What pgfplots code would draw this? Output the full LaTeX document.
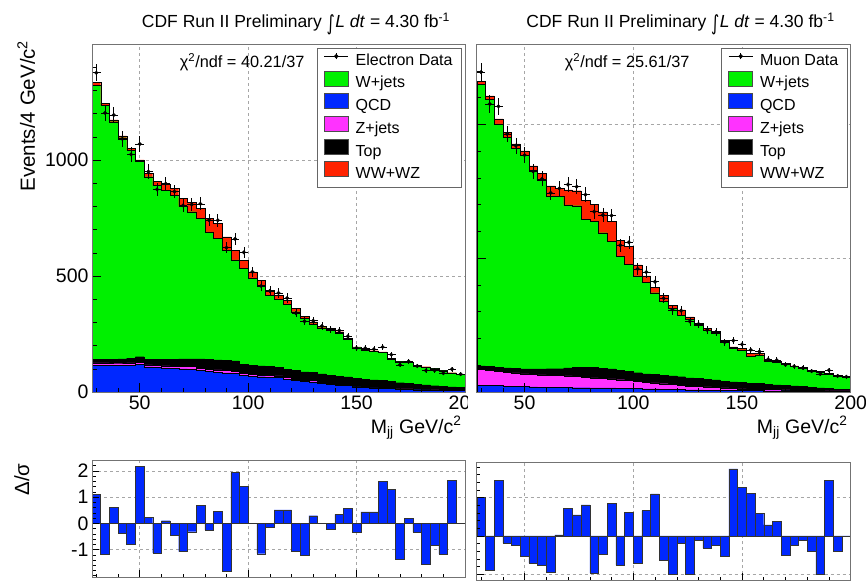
\documentclass[border=0pt]{standalone}
\usepackage{pgfplots}
\pgfplotsset{compat=1.18}
\usepackage{pgfplotstable}
\usepackage{graphicx}
\usepackage{fontspec}
\setmainfont{Liberation Sans}
\newfontfamily\djv{DejaVu Sans}

\definecolor{rgreen}{RGB}{0,240,0}
\definecolor{rblue}{RGB}{0,40,255}
\definecolor{rmag}{RGB}{255,50,255}
\definecolor{rred}{RGB}{255,35,0}

\pgfplotsset{
  rootframe/.style={
    scale only axis, axis on top, clip=true,
    axis line style={draw=black!55, line width=0.9pt},
    tick style={black, line width=0.5pt},
    tick align=inside, xtick pos=bottom, ytick pos=left,
    major tick length=9pt, minor tick length=4.5pt,
    ticklabel style={font=\fontsize{19.5}{22}\selectfont},
    /pgf/number format/assume math mode=true,
    /pgf/number format/1000 sep={},
    xmin=28, xmax=200,
    xtick={50,100,150,200}, minor xtick={30,40,...,200},
  },
  gridl/.style={black!35, dashed, dash pattern=on 3pt off 3pt, line width=0.5pt, forget plot},
  rootlegend/.style={
    legend cell align=left,
    legend style={at={(rel axis cs:1,1)}, anchor=north east, xshift=-3pt, yshift=-4pt,
      draw=black!60, line width=0.8pt, fill=white,
      font=\fontsize{16}{18}\selectfont,
      inner xsep=7pt, inner ysep=3.5pt, row sep=0pt,
      nodes={inner ysep=1.4pt, text height=12pt, text depth=4pt},
      /tikz/every odd column/.append style={column sep=5pt},
      /tikz/every even column/.append style={column sep=6pt}},
  },
  legdata/.style={legend image code/.code={
      \draw[black, line width=0.7pt] (0pt,5pt) -- (24pt,5pt);
      \draw[black, line width=0.7pt] (12pt,2pt) -- (12pt,8pt);
      \fill[black] (12pt,5pt) circle (1.8pt);}},
  legbox/.style={legend image code/.code={
      \draw[black!70, line width=0.6pt, fill=#1] (0pt,-2pt) rectangle (24pt,13pt);}},
  layer/.style={const plot mark left, fill=#1, draw=black, line width=0.35pt, forget plot},
  databars/.style={only marks, mark=*, mark size=1.8pt, black, forget plot,
      error bars/.cd, x dir=both, x fixed=2, y dir=both, y explicit,
      error bar style={line width=0.6pt, black}, error mark=none},
}

% Electron channel: bin left edges, stacked components
\pgfplotstableread{
x qcd z top wj ww
28 116 10 14 1183 12
32 116 10 16 1095 8
36 115 10 17 1023 8
40 115 10 18 953 8
44 116 10 20 896 8
48 118 10 24 842 6
52 108 9 24 787 15
56 106 9 26 749 17
60 104 9 28 729 25
64 102 10 30 707 29
68 100 11 32 656 36
72 98 12 33 634 40
76 92 11 40 605 43
80 88 11 41 550 58
84 84 11 44 523 65
88 82 10 44 475 58
92 80 10 44 435 43
96 72 8 40 412 36
100 68 8 40 373 29
104 66 7 40 347 22
108 64 7 40 306 22
112 62 7 38 292 18
116 56 6 36 279 18
120 50 6 36 254 14
124 46 5 36 230 10
128 44 5 35 210 8
132 38 5 35 199 7
136 34 4 34 196 6
140 30 4 34 186 6
144 28 4 33 161 5
148 22 3 33 133 4
152 20 3 32 124 4
156 18 3 31 122 4
160 16 3 30 121 3
164 15 2 28 97 3
168 12 2 26 90 3
172 11 2 24 91 2
176 10 2 22 80 2
180 9 2 20 76 2
184 8 1 18 73 2
188 7 1 16 67 1
192 7 1 14 60 1
196 6 1 12 57 1
200 6 1 12 57 1
}\etab

\pgfplotstableread{
x n
30 1376
34 1203
38 1194
42 1091
46 1024
50 1069
54 950
58 873
62 898
66 864
70 804
74 808
78 811
82 741
86 740
90 622
94 660
98 602
102 518
106 457
110 436
114 427
118 405
122 340
126 305
130 307
134 284
138 270
142 265
146 240
150 190
154 189
158 184
162 194
166 161
170 117
174 132
178 112
182 93
186 93
190 81
194 98
198 77
}\edata

\pgfplotstableread{
x r
28 1.12
32 -1.18
36 0.61
40 -0.38
44 -0.80
48 2.19
52 0.24
56 -1.14
60 0.10
64 -0.47
68 -1.08
72 -0.32
76 0.70
80 -0.25
84 0.47
88 -1.82
92 1.94
96 1.42
100 0
104 -1.16
108 -0.15
112 0.51
116 0.51
120 -1.08
124 -1.23
128 0.29
132 0
136 -0.22
140 0.34
144 0.57
148 -0.34
152 0.44
156 0.44
160 1.61
164 1.31
168 -1.36
172 0.19
176 -0.34
180 -1.55
184 -0.85
188 -1.18
192 1.65
196 0
200 0
}\eres

% Muon channel
\pgfplotstableread{
x qcd z top wj ww
28 26 58 14 1051 12
32 25 56 14 999 12
36 24 54 15 909 18
40 22 52 16 862 18
44 21 50 17 821 18
48 20 48 18 797 18
52 19 47 20 741 18
56 18 46 22 707 25
60 18 45 24 646 37
64 17 44 26 643 30
68 17 43 30 609 56
72 16 42 34 604 56
76 16 40 37 552 70
80 15 38 38 547 62
84 15 36 38 506 78
88 15 34 37 478 74
92 14 32 35 427 58
96 14 29 33 401 68
100 13 26 33 362 41
104 12 24 32 341 25
108 12 22 32 305 19
112 11 20 32 276 23
116 10 18 32 252 13
120 9 16 32 230 20
124 8 14 31 218 10
128 8 13 30 197 8
132 7 12 29 182 7
136 7 10 28 176 6
140 6 9 26 147 6
144 6 8 24 126 5
148 5 7 23 122 5
152 5 6 22 101 10
156 5 6 21 107 5
160 4 5 20 86 4
164 4 5 18 85 3
168 4 4 17 79 3
172 3 4 16 72 3
176 3 3 14 69 2
180 3 3 12 62 2
184 2 3 10 59 2
188 2 2 9 54 2
192 2 2 7 51 1
196 2 2 6 46 1
200 2 2 6 46 1
}\mtab

\pgfplotstableread{
x n
30 1195
34 1076
38 1067
42 964
46 920
50 885
54 824
58 796
62 744
66 761
70 775
74 767
78 737
82 674
86 661
90 659
94 548
98 559
102 460
106 448
110 412
114 350
118 307
122 304
126 264
130 254
134 232
138 224
142 186
146 192
150 178
154 157
158 151
162 122
166 119
170 102
174 96
178 90
182 78
186 67
190 81
194 60
198 57
}\mdata

\pgfplotstableread{
x r
28 1.00
32 -0.89
36 1.46
40 -0.19
44 -0.23
48 -0.54
52 -0.71
56 -0.76
60 -0.95
64 0.03
68 0.72
72 0.55
76 0.81
80 -0.97
84 -0.48
88 0.85
92 -0.76
96 0.62
100 -0.71
104 0.66
108 1.10
112 -0.63
116 -0.99
120 -0.19
124 -0.99
128 -0.10
132 -0.32
136 -0.23
140 -0.54
144 1.75
148 1.27
152 1.11
156 0.59
160 0.29
164 0.39
168 -0.50
172 -0.23
176 -0.10
180 -0.41
184 -0.99
188 1.46
192 -0.41
196 0
200 0
}\mres

\newcommand{\lumi}{CDF Run II Preliminary \raisebox{-2.5pt}{\scalebox{0.9}[1.2]{\djv ∫}}\kern0.5pt\textit{L dt} = 4.30 fb\textsuperscript{-1}}

\begin{document}
\begin{tikzpicture}
\path[use as bounding box] (0pt,0pt) rectangle (866pt,581pt);

% ===== Left main (electron) =====
\begin{axis}[rootframe, rootlegend, at={(92pt,189pt)}, anchor=south west,
  width=373pt, height=348pt, ymin=0, ymax=1500,
  ytick={0,500,1000}, minor ytick={100,200,...,1400}]
\addplot[gridl] coordinates {(50,0) (50,1500)};
\addplot[gridl] coordinates {(100,0) (100,1500)};
\addplot[gridl] coordinates {(150,0) (150,1500)};
\addplot[gridl] coordinates {(28,500) (200,500)};
\addplot[gridl] coordinates {(28,1000) (200,1000)};
\addplot[layer=rred] table[x=x, y expr=\thisrow{qcd}+\thisrow{z}+\thisrow{top}+\thisrow{wj}+\thisrow{ww}] {\etab} \closedcycle;
\addplot[layer=rgreen] table[x=x, y expr=\thisrow{qcd}+\thisrow{z}+\thisrow{top}+\thisrow{wj}] {\etab} \closedcycle;
\addplot[layer=black] table[x=x, y expr=\thisrow{qcd}+\thisrow{z}+\thisrow{top}] {\etab} \closedcycle;
\addplot[layer=rmag] table[x=x, y expr=\thisrow{qcd}+\thisrow{z}] {\etab} \closedcycle;
\addplot[layer=rblue] table[x=x, y=qcd] {\etab} \closedcycle;
\addplot[databars] table[x=x, y=n, y error expr={sqrt(\thisrow{n})}] {\edata};
\addlegendimage{legdata}\addlegendentry{Electron Data}
\addlegendimage{legbox=rgreen}\addlegendentry{W+jets}
\addlegendimage{legbox=rblue}\addlegendentry{QCD}
\addlegendimage{legbox=rmag}\addlegendentry{Z+jets}
\addlegendimage{legbox=black}\addlegendentry{Top}
\addlegendimage{legbox=rred}\addlegendentry{WW+WZ}
\end{axis}

% ===== Left residual =====
\begin{axis}[rootframe, at={(92pt,4pt)}, anchor=south west,
  width=373pt, height=116.5pt, ymin=-2.05, ymax=2.4,
  xticklabels={}, ytick={-1,0,1,2}, minor ytick={-2,-1.8,...,2.4},
  major tick length=7pt, minor tick length=3.5pt]
\addplot[gridl] coordinates {(50,-2.05) (50,2.4)};
\addplot[gridl] coordinates {(100,-2.05) (100,2.4)};
\addplot[gridl] coordinates {(150,-2.05) (150,2.4)};
\addplot[gridl] coordinates {(28,-1) (200,-1)};
\addplot[gridl] coordinates {(28,1) (200,1)};
\addplot[gridl] coordinates {(28,2) (200,2)};
\addplot[black!60, line width=0.5pt, forget plot] coordinates {(28,0) (200,0)};
\addplot[ybar interval, fill=rblue, draw=black!80, line width=0.4pt, forget plot] table[x=x, y=r] {\eres};
\end{axis}

% left-panel texts
\node[anchor=base, font=\fontsize{17.5}{20}\selectfont] at (296pt,553pt) {\lumi};
\node[anchor=base east, font=\fontsize{16.3}{19}\selectfont] at (308pt,513pt)
  {χ\textsuperscript{2}/ndf = 40.21/37};
\node[anchor=base east, font=\fontsize{19.5}{22}\selectfont] at (465pt,148pt)
  {M\textsubscript{jj} GeV/c\textsuperscript{2}};
\node[anchor=base east, rotate=90, font=\fontsize{20.5}{23}\selectfont] at (35pt,544pt)
  {Events/4 GeV/c\textsuperscript{2}};
\node[anchor=base east, rotate=90, font=\fontsize{20.5}{23}\selectfont] at (29pt,121pt)
  {Δ/σ};

% canvas of the right-hand plot covers the left one
\fill[white] (468pt,0pt) rectangle (866pt,581pt);

% ===== Right main (muon) =====
\begin{axis}[rootframe, rootlegend, at={(476.7pt,189pt)}, anchor=south west,
  width=374pt, height=348pt, ymin=0, ymax=1300,
  ytick={0,500,1000}, yticklabels={}, minor ytick={100,200,...,1200}]
\addplot[gridl] coordinates {(50,0) (50,1300)};
\addplot[gridl] coordinates {(100,0) (100,1300)};
\addplot[gridl] coordinates {(150,0) (150,1300)};
\addplot[gridl] coordinates {(28,500) (200,500)};
\addplot[gridl] coordinates {(28,1000) (200,1000)};
\addplot[layer=rred] table[x=x, y expr=\thisrow{qcd}+\thisrow{z}+\thisrow{top}+\thisrow{wj}+\thisrow{ww}] {\mtab} \closedcycle;
\addplot[layer=rgreen] table[x=x, y expr=\thisrow{qcd}+\thisrow{z}+\thisrow{top}+\thisrow{wj}] {\mtab} \closedcycle;
\addplot[layer=black] table[x=x, y expr=\thisrow{qcd}+\thisrow{z}+\thisrow{top}] {\mtab} \closedcycle;
\addplot[layer=rmag] table[x=x, y expr=\thisrow{qcd}+\thisrow{z}] {\mtab} \closedcycle;
\addplot[layer=rblue] table[x=x, y=qcd] {\mtab} \closedcycle;
\addplot[databars] table[x=x, y=n, y error expr={sqrt(\thisrow{n})}] {\mdata};
\addlegendimage{legdata}\addlegendentry{Muon Data}
\addlegendimage{legbox=rgreen}\addlegendentry{W+jets}
\addlegendimage{legbox=rblue}\addlegendentry{QCD}
\addlegendimage{legbox=rmag}\addlegendentry{Z+jets}
\addlegendimage{legbox=black}\addlegendentry{Top}
\addlegendimage{legbox=rred}\addlegendentry{WW+WZ}
\end{axis}

% ===== Right residual =====
\begin{axis}[rootframe, at={(476.7pt,1pt)}, anchor=south west,
  width=374pt, height=118pt, ymin=-1.15, ymax=1.93,
  xticklabels={}, ytick={-1,0,1}, yticklabels={}, minor ytick={-1,-0.8,...,1.8},
  major tick length=7pt, minor tick length=3.5pt]
\addplot[gridl] coordinates {(50,-1.15) (50,1.93)};
\addplot[gridl] coordinates {(100,-1.15) (100,1.93)};
\addplot[gridl] coordinates {(150,-1.15) (150,1.93)};
\addplot[gridl] coordinates {(28,-1) (200,-1)};
\addplot[gridl] coordinates {(28,1) (200,1)};
\addplot[black!60, line width=0.5pt, forget plot] coordinates {(28,0) (200,0)};
\addplot[ybar interval, fill=rblue, draw=black!80, line width=0.4pt, forget plot] table[x=x, y=r] {\mres};
\end{axis}

% right-panel texts
\node[anchor=base, font=\fontsize{17.5}{20}\selectfont] at (680.5pt,553pt) {\lumi};
\node[anchor=base east, font=\fontsize{16.3}{19}\selectfont] at (693pt,513pt)
  {χ\textsuperscript{2}/ndf = 25.61/37};
\node[anchor=base east, font=\fontsize{19.5}{22}\selectfont] at (851pt,148pt)
  {M\textsubscript{jj} GeV/c\textsuperscript{2}};
\end{tikzpicture}
\end{document}
